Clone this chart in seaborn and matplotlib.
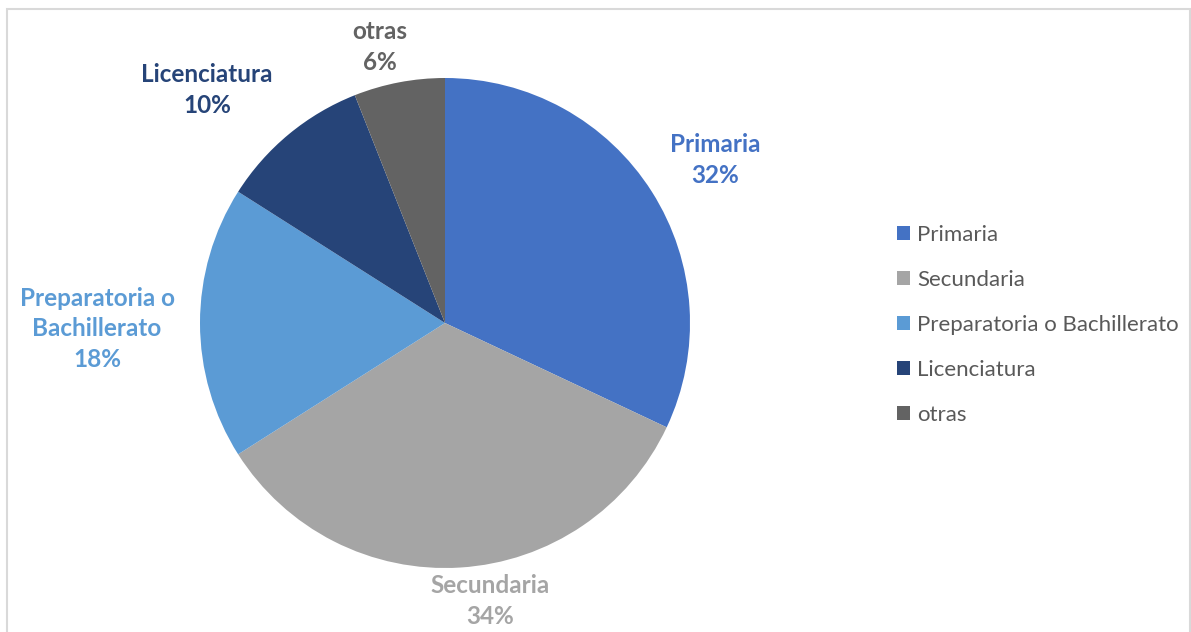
import matplotlib
matplotlib.use("Agg")
import matplotlib.pyplot as plt
import seaborn as sns
from matplotlib.patches import Rectangle, Patch

categories = ["Primaria", "Secundaria", "Preparatoria o Bachillerato", "Licenciatura", "otras"]
values = [32, 34, 18, 10, 6]
label_texts = ["Primaria\n32%", "Secundaria\n34%", "Preparatoria o\nBachillerato\n18%", "Licenciatura\n10%", "otras\n6%"]
colors = ["#4472C4", "#A5A5A5", "#5B9BD5", "#264478", "#636363"]

sns.set_theme(style="white")
plt.rcParams["font.family"] = ["Lato", "DejaVu Sans"]

W, H = 1191, 632
fig = plt.figure(figsize=(W / 100, H / 100), dpi=100)
fig.patch.set_facecolor("white")

cx, cy, r = 445, 323, 245
ax = fig.add_axes([(cx - r) / W, (H - cy - r) / H, 2 * r / W, 2 * r / H])
wedges, _ = ax.pie(values, colors=colors, startangle=90, counterclock=False,
                   radius=1, wedgeprops=dict(edgecolor="none", linewidth=0))
ax.set_xlim(-1, 1)
ax.set_ylim(-1, 1)
ax.set_aspect("equal")
ax.axis("off")

# label centres in pixel coordinates of the figure
label_px = [(715, 160), (490, 601), (97, 329), (207, 90), (380, 47)]
for txt, (px, py), col in zip(label_texts, label_px, colors):
    fig.text(px / W, 1 - py / H, txt, ha="center", va="center", color=col,
             fontsize=17.5, fontweight="bold", linespacing=1.42)

handles = [Patch(facecolor=c, edgecolor="none") for c in colors]
leg = fig.legend(handles, categories, loc="center left",
                 bbox_to_anchor=(897 / W, 1 - 325 / H), frameon=False,
                 fontsize=16, labelcolor="#595959", handlelength=0.6,
                 handleheight=0.6, handletextpad=0.3, labelspacing=1.12,
                 borderpad=0, borderaxespad=0)

fig.add_artist(Rectangle((7 / W, -0.05), (1190 - 7) / W, 1.05 - 9 / H,
                         transform=fig.transFigure, fill=False,
                         edgecolor="#d9d9d9", linewidth=1.5))

fig.savefig("out.png", dpi=100, facecolor="white")
